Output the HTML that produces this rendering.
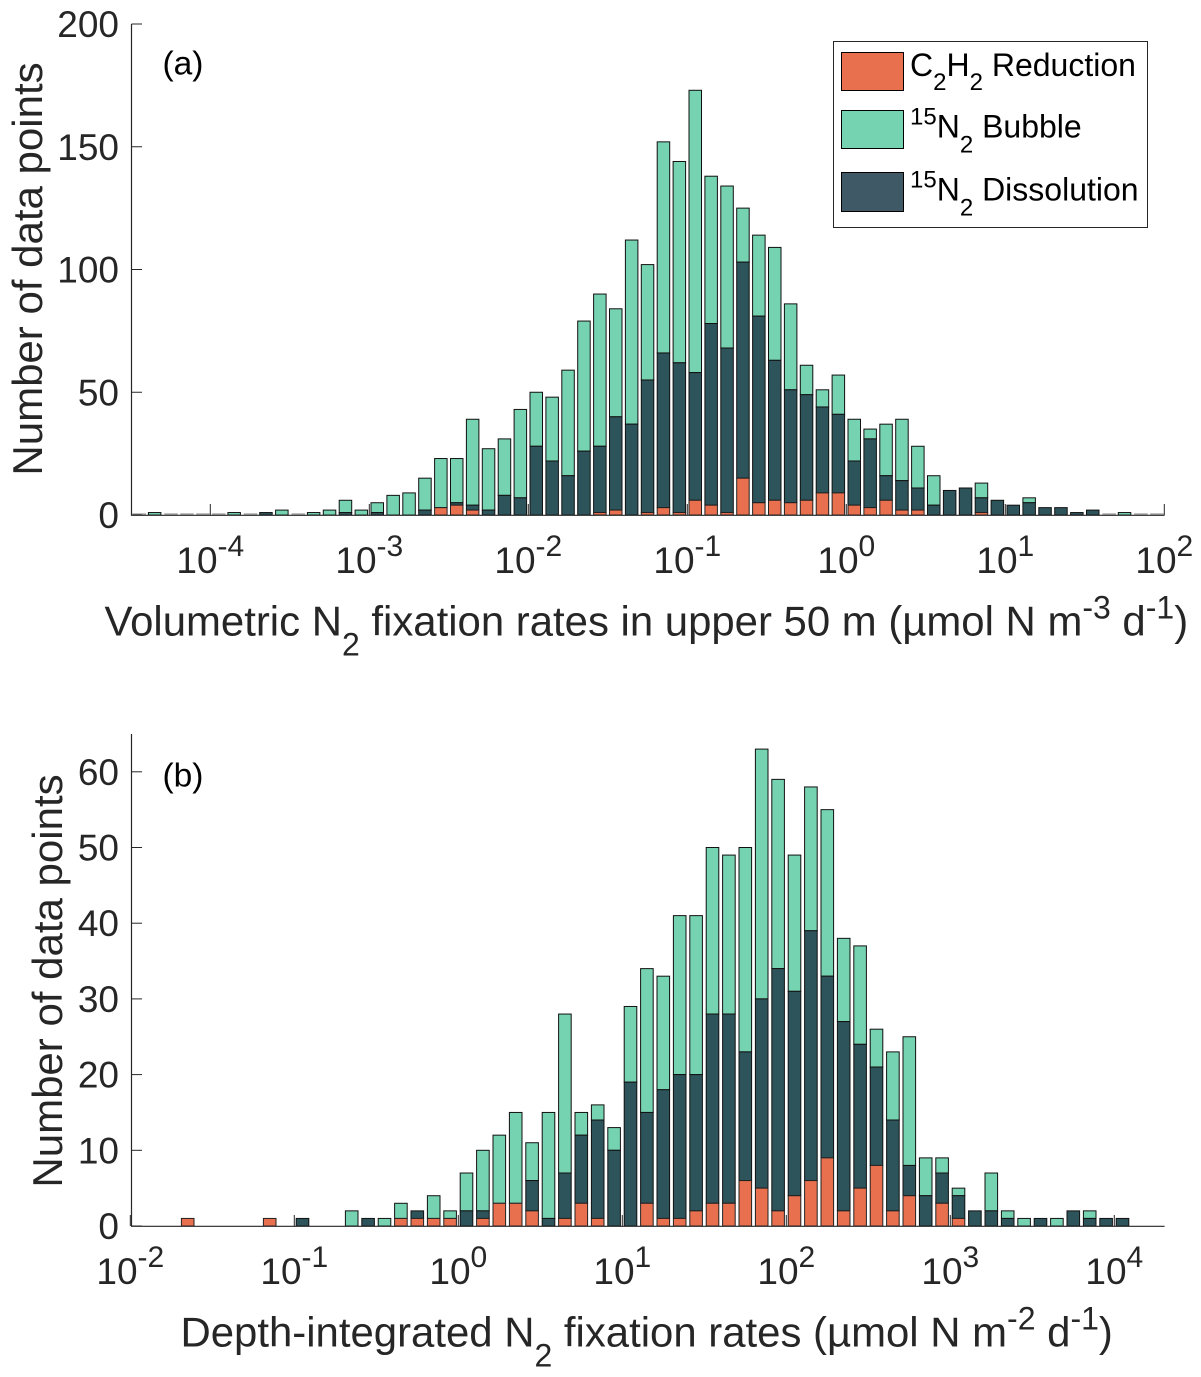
<!DOCTYPE html>
<html lang="en">
<head>
<meta charset="utf-8">
<title>N2 fixation rate histograms</title>
<style>
html,body{margin:0;padding:0;background:#fff;}
svg{display:block;font-family:"Liberation Sans",Arial,sans-serif;}
</style>
</head>
<body>
<svg id="chart" xmlns="http://www.w3.org/2000/svg" width="1201" height="1377" viewBox="0 0 1201 1377">
  <rect x="0" y="0" width="1201" height="1377" fill="#ffffff"/>
  <g id="panel-a"></g>
  <g id="panel-b"></g>

  <text x="162.5" y="74.5" font-size="33.5" fill="#000">(a)</text>
  <text x="162.5" y="786.5" font-size="33.5" fill="#000">(b)</text>

  <text transform="translate(42,269) rotate(-90)" text-anchor="middle" font-size="42" fill="#262626">Number of data points</text>
  <text transform="translate(62,981) rotate(-90)" text-anchor="middle" font-size="42" fill="#262626">Number of data points</text>

  <text x="104.5" y="635.7" font-size="41.9" fill="#262626">Volumetric N<tspan font-size="32" dy="20">2</tspan><tspan dy="-20"> fixation rates in upper 50 m (µmol N m</tspan><tspan font-size="32" dy="-17">-3</tspan><tspan dy="17"> d</tspan><tspan font-size="32" dy="-17">-1</tspan><tspan dy="17">)</tspan></text>
  <text x="180.5" y="1346.7" font-size="41.9" fill="#262626">Depth-integrated N<tspan font-size="32" dy="20">2</tspan><tspan dy="-20"> fixation rates (µmol N m</tspan><tspan font-size="32" dy="-17">-2</tspan><tspan dy="17"> d</tspan><tspan font-size="32" dy="-17">-1</tspan><tspan dy="17">)</tspan></text>

  <g>
    <rect x="833.5" y="41.5" width="314" height="186" fill="#fff" stroke="#262626" stroke-width="1"/>
    <rect x="841.5" y="52.5" width="62" height="38" fill="#e8704f" stroke="#000" stroke-width="1"/>
    <rect x="841.5" y="110.5" width="62" height="38" fill="#76d3b1" stroke="#000" stroke-width="1"/>
    <rect x="841.5" y="172.5" width="62" height="39" fill="#3f5966" stroke="#000" stroke-width="1"/>
    <text x="910" y="76" font-size="32" fill="#000">C<tspan font-size="24" dy="14">2</tspan><tspan dy="-14">H</tspan><tspan font-size="24" dy="14">2</tspan><tspan dy="-14"> Reduction</tspan></text>
    <text x="910" y="137.5" font-size="32" fill="#000"><tspan font-size="24" dy="-13">15</tspan><tspan dy="13">N</tspan><tspan font-size="24" dy="15">2</tspan><tspan dy="-15"> Bubble</tspan></text>
    <text x="910" y="200.5" font-size="32" fill="#000"><tspan font-size="24" dy="-13">15</tspan><tspan dy="13">N</tspan><tspan font-size="24" dy="15">2</tspan><tspan dy="-15"> Dissolution</tspan></text>
  </g>
</svg>

<script>
// Panel (a): counts per 0.1-decade bin, starting at 10^-4.5
const aReduction = [
  0,0,0,0,0,0,0,0,0,0,
  0,0,0,0,0,0,0,0,0,3,
  4,2,0,0,0,0,0,0,0,1,
  2,0,1,3,1,6,4,1,15,5,
  6,5,6,9,9,4,3,6,2,2,
  0,0,0,1,0,0,0,0,0,0,
  0,0,0,0,0
];
const aDissolution = [
  0,0,0,0,0,0,0,0,1,0,
  0,0,0,1,0,1,0,0,2,0,
  1,2,2,8,7,28,22,16,26,27,
  38,37,54,63,61,52,74,67,88,76,
  57,46,43,35,32,18,28,10,12,9,
  4,10,11,6,6,4,5,3,3,1,
  2,0,0,0,0
];
const aBubble = [
  0,1,0,0,0,0,1,0,0,2,
  0,1,2,5,2,4,8,9,13,20,
  18,35,25,23,36,22,26,43,53,62,
  44,75,47,86,82,115,60,66,22,33,
  46,35,12,7,16,17,4,21,25,17,
  12,0,0,6,0,0,2,0,0,0,
  0,0,1,0,0
];
const aYTicks = [0,50,100,150,200];
const aXTickExponents = [-4,-3,-2,-1,0,1,2];

// Panel (b): counts per 0.1-decade bin, starting at 10^-2
const bReduction = [
  0,0,0,1,0,0,0,0,1,0,
  0,0,0,0,0,0,1,1,1,1,
  0,1,3,3,2,0,1,3,1,0,
  0,3,1,1,2,3,3,6,5,2,
  4,6,9,2,5,8,2,4,0,3,
  1,0,0,0,0,0,0,0,0,0,
  0,0,0
];
const bDissolution = [
  0,0,0,0,0,0,0,0,0,0,
  1,0,0,0,1,0,0,1,0,0,
  2,1,0,0,4,1,6,9,13,10,
  19,12,17,19,18,25,25,17,25,32,
  27,33,24,25,19,13,12,4,4,4,
  3,2,2,1,0,1,0,2,1,1,
  1,0,0
];
const bBubble = [
  0,0,0,0,0,0,0,0,0,0,
  0,0,0,2,0,1,2,0,3,1,
  5,8,9,12,5,14,21,3,2,3,
  10,19,15,21,21,22,21,27,33,25,
  18,19,22,11,13,5,9,17,5,2,
  1,0,5,1,1,0,1,0,1,0,
  0,0,0
];
const bYTicks = [0,10,20,30,40,50,60];
const bXTickExponents = [-2,-1,0,1,2,3,4];

const SVG_NS = 'http://www.w3.org/2000/svg';

function make(parent, tag, attrs) {
  const el = document.createElementNS(SVG_NS, tag);
  for (const k in attrs) el.setAttribute(k, attrs[k]);
  parent.appendChild(el);
  return el;
}

function drawPanel(cfg) {
  const g = document.getElementById(cfg.id);
  const x = function (logValue) { return cfg.x0 + (logValue - cfg.logMin) * cfg.pxPerDecade; };
  const y = function (count) { return cfg.baseY - count * cfg.pxPerCount; };

  for (let i = 0; i < cfg.reduction.length; i++) {
    const center = x(cfg.logMin + (i + 0.5) * 0.1);
    const left = center - cfg.barWidth / 2;
    const r = cfg.reduction[i];
    const d = cfg.dissolution[i];
    const b = cfg.bubble[i];

    if (r + d + b === 0) {
      if (cfg.showEmptyBins) {
        const empty = make(g, 'rect', { x: left, y: cfg.baseY - 1.5, width: cfg.barWidth + 1, height: 1, fill: '#808080' });
        
        
      }
      continue;
    }
    if (b > 0) {
      const bar = make(g, 'rect', { x: left, y: y(r + d + b), width: cfg.barWidth, height: b * cfg.pxPerCount, fill: '#76d3b1', stroke: '#111', 'stroke-width': 1 });
      
      
    }
    if (d > 0) {
      const bar = make(g, 'rect', { x: left, y: y(r + d), width: cfg.barWidth, height: d * cfg.pxPerCount, fill: '#2e545b', stroke: '#111', 'stroke-width': 1 });
      
      
    }
    if (r > 0) {
      const bar = make(g, 'rect', { x: left, y: y(r), width: cfg.barWidth, height: r * cfg.pxPerCount, fill: '#e8704f', stroke: '#222', 'stroke-width': 1 });
      
      
    }
  }

  const yAxis = make(g, 'line', { x1: 131.5, x2: 131.5, y1: cfg.baseY + 0.5, y2: cfg.topY, stroke: '#262626', 'stroke-width': 1.2 });
  
  

  const xAxis = make(g, 'line', { x1: 131, x2: 1164.6, y1: cfg.baseY + 0.3, y2: cfg.baseY + 0.3, stroke: '#262626', 'stroke-width': 1.2 });
  
  

  cfg.yTicks.forEach(function (t) {
    const ty = y(t);
    const tick = make(g, 'line', { x1: 131.5, x2: 142, y1: ty, y2: ty, stroke: '#262626', 'stroke-width': 1 });
    
    
    const label = make(g, 'text', { x: 119, y: ty + 13, 'text-anchor': 'end', 'font-size': 37, fill: '#262626' });
    
    
    label.textContent = String(t);
  });

  cfg.xExponents.forEach(function (e) {
    const tx = x(e);
    const tick = make(g, 'line', { x1: tx, x2: tx, y1: cfg.baseY, y2: cfg.baseY - 11, stroke: '#262626', 'stroke-width': 1 });
    
    
    const label = make(g, 'text', { x: tx, y: cfg.baseY + 58, 'text-anchor': 'middle', 'font-size': 37, fill: '#262626' });
    
    
    const base = make(label, 'tspan', {});
    base.textContent = '10';
    const sup = make(label, 'tspan', { 'font-size': 30, dy: -17 });
    sup.textContent = String(e);
  });
}

drawPanel({
  id: 'panel-a',
  reduction: aReduction, dissolution: aDissolution, bubble: aBubble,
  yTicks: aYTicks, xExponents: aXTickExponents,
  logMin: -4.5, x0: 130.8, pxPerDecade: 159,
  baseY: 515, topY: 24, pxPerCount: 2.455,
  barWidth: 12.5, showEmptyBins: true
});
drawPanel({
  id: 'panel-b',
  reduction: bReduction, dissolution: bDissolution, bubble: bBubble,
  yTicks: bYTicks, xExponents: bXTickExponents,
  logMin: -2, x0: 130.3, pxPerDecade: 164,
  baseY: 1226, topY: 734, pxPerCount: 7.57,
  barWidth: 12.6, showEmptyBins: false
});
</script>
</body>
</html>
